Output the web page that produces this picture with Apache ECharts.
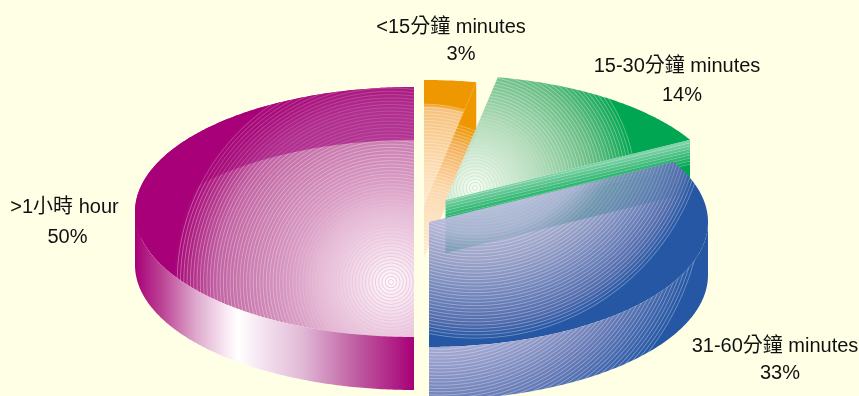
<!DOCTYPE html>
<html>
<head>
<meta charset="utf-8">
<style>html,body{margin:0;padding:0;background:#ffffe6}#chart{width:859px;height:396px}</style>
<script src="https://cdn.jsdelivr.net/npm/echarts@6/dist/echarts.min.js"></script>
</head>
<body>
<div id="chart"></div>
<script>
// Travel time shares, listed clockwise from the bottom of the pie.
const categories = ['>1小時 hour', '<15分鐘 minutes', '15-30分鐘 minutes', '31-60分鐘 minutes'];
const shares = [50, 3, 14, 33];

// Disc proportions shared by every slice.
const RX = 279, RY = 125, DEPTH = 53;
const WHITE = [255, 255, 255];

// Colour ramps: [position, rgb, alpha].
const RAMP_MAGENTA = [
  [0, [255, 250, 253], .97], [.35, [226, 176, 210], .92], [.65, [183, 76, 158], .72], [.8, [178, 58, 148], .8],
  [.93, [168, 16, 124], .92], [1, [168, 0, 120], 1]
];
const RAMP_ORANGE_TOP = [
  [0, [255, 250, 244], .95], [.5, [253, 222, 184], .95], [.95, [246, 190, 118], .95],
  [.975, [238, 151, 0], 1], [1, [238, 151, 0], 1]
];
const RAMP_ORANGE_WALL = [
  [0, [255, 240, 225], .95], [.5, [252, 214, 170], .95], [.85, [243, 176, 88], 1], [1, [238, 151, 0], 1]
];
const RAMP_GREEN = [
  [0, [248, 252, 244], .95], [.4, [172, 216, 182], .93], [.72, [90, 184, 124], .93], [.97, [0, 166, 81], 1], [1, [0, 166, 81], 1]
];
const RAMP_BLUE = [
  [0, [240, 240, 250], .95], [.55, [176, 178, 216], .96], [.66, [136, 146, 196], .84], [.84, [100, 122, 184], .95],
  [.93, [82, 108, 174], 1], [1, [37, 87, 165], 1]
];
const RAMP_BLUE_WALL = [
  [0, [240, 240, 250], 1], [.55, [176, 178, 216], 1], [.8, [104, 124, 184], 1], [.99, [37, 87, 165], 1], [1, [37, 87, 165], 1]
];

// Per-slice drawing settings, in the same order as the categories.
const sliceLooks = [
  { cx: 414, cy: 212, hue: [168, 0, 120],
    top: { x: 391, y: 282, r: 218, ramp: RAMP_MAGENTA, rings: 66 },
    label: [64.5, 207], share: [67.5, 237] },
  { cx: 424, cy: 205, hue: [238, 151, 0],
    top: { x: 424, y: 250, r: 150, ramp: RAMP_ORANGE_TOP, rings: 46 },
    cut: { x: 424, y: 255, r: 135, ramp: RAMP_ORANGE_WALL, rings: 42 },
    label: [451, 27], share: [461, 54] },
  { cx: 445.5, cy: 200, hue: [0, 166, 81],
    top: { x: 475, y: 188, r: 168, ramp: RAMP_GREEN, rings: 52 },
    cutLinear: true,
    label: [677, 66], share: [682, 95] },
  { cx: 429, cy: 222, hue: [37, 87, 165],
    top: { x: 475, y: 105, r: 234, ramp: RAMP_BLUE, rings: 72 },
    wall: { x: 440, y: 190, r: 268, ramp: RAMP_BLUE_WALL, rings: 82 },
    label: [775, 346], share: [780, 373] }
];

function mix(a, b, f) {
  return [0, 1, 2].map(i => a[i] + (b[i] - a[i]) * f);
}
function css(c, alpha) {
  return 'rgba(' + c.map(Math.round).join(',') + ',' + alpha.toFixed(3) + ')';
}
function clamp01(v) {
  return Math.max(0, Math.min(1, v));
}
function sampleRamp(ramp, t) {
  for (let i = 1; i < ramp.length; i++) {
    if (t <= ramp[i][0]) {
      const a = ramp[i - 1], b = ramp[i];
      const f = (t - a[0]) / (b[0] - a[0] || 1);
      return { rgb: mix(a[1], b[1], f), alpha: a[2] + (b[2] - a[2]) * f };
    }
  }
  const last = ramp[ramp.length - 1];
  return { rgb: last[1], alpha: last[2] };
}
// Concentric fine rings with soft edges, which keeps interference patterns down.
// Ring lines read darker than the surface near the pale centre and lighter further out.
function ringGradient(spec, hue) {
  const stops = [];
  for (let k = 0; k < spec.rings; k++) {
    const t0 = k / spec.rings, t1 = (k + .45) / spec.rings, t2 = (k + .72) / spec.rings;
    const a = sampleRamp(spec.ramp, t0), b = sampleRamp(spec.ramp, t1), g = sampleRamp(spec.ramp, t2);
    const solid = g.rgb.every((v, i) => Math.abs(v - hue[i]) < 1);
    const darken = .2 * clamp01(1 - t2 / .3), lighten = .24 * clamp01((t2 - .3) / .25);
    const lineRgb = solid ? g.rgb : mix(mix(g.rgb, hue, darken), WHITE, lighten);
    const lineAlpha = solid ? g.alpha : g.alpha * (1 - .1 * clamp01((t2 - .3) / .25));
    stops.push({ offset: t0, color: css(a.rgb, a.alpha) });
    stops.push({ offset: t1, color: css(b.rgb, b.alpha) });
    stops.push({ offset: t2, color: css(lineRgb, lineAlpha) });
  }
  // Beyond the last ring the surface is the plain slice colour.
  stops.push({ offset: 1, color: css(hue, 1) });
  return new echarts.graphic.RadialGradient(spec.x, spec.y, spec.r, stops, true);
}
// Striped gradient across the straight cut face of a slice.
function stripedCutFace(x, y, dx, dy, hue) {
  const stops = [], n = 8;
  for (let k = 0; k < n; k++) {
    const c0 = mix(hue, WHITE, .5 * (1 - k / n)), line = mix(c0, WHITE, .26);
    stops.push({ offset: k / n, color: css(c0, 1) });
    stops.push({ offset: (k + .5) / n, color: css(c0, 1) });
    stops.push({ offset: (k + .75) / n, color: css(line, 1) });
  }
  stops.push({ offset: 1, color: css(hue, 1) });
  return new echarts.graphic.LinearGradient(x, y, x + dx, y + dy, stops, true);
}

function rimPoint(look, deg, drop) {
  const a = deg * Math.PI / 180;
  return [look.cx + RX * Math.cos(a), look.cy - RY * Math.sin(a) + (drop || 0)];
}
function arc(look, from, to, drop) {
  const pts = [], steps = Math.max(4, Math.ceil(Math.abs(to - from) * 1.5));
  for (let i = 0; i <= steps; i++) pts.push(rimPoint(look, from + (to - from) * i / steps, drop));
  return pts;
}
// Rim band between two angles, top edge plus the same edge lowered by the disc depth.
function band(look, from, to) {
  return arc(look, from, to, 0).concat(arc(look, to, from, DEPTH));
}
function poly(points, fill) {
  return { type: 'polygon', shape: { points }, style: { fill } };
}

const total = shares.reduce((s, v) => s + v, 0);
const magentaWallStops = [
  [0, [168, 0, 120]], [.1, [188, 70, 150]], [.22, [222, 170, 205]], [.33, [250, 235, 245]],
  [.37, [255, 255, 255]], [.44, [247, 232, 243]], [.6, [225, 185, 214]], [.8, [190, 90, 160]], [1, [168, 0, 120]]
];

function renderSlice(params) {
  const i = params.dataIndex, look = sliceLooks[i];
  let before = 0;
  for (let k = 0; k < i; k++) before += shares[k];
  const start = 270 - before / total * 360;
  const end = start - shares[i] / total * 360;
  const apex = [look.cx, look.cy];
  const children = [];
  let faceOverTop = null;

  // Far wall, only seen through the translucent top of the large slice.
  if (i === 0) children.push(poly(band(look, 90, 180), css(look.hue, 1)));

  // Straight cut face on the trailing edge.
  if (look.cut || look.cutLinear) {
    const edge = rimPoint(look, end, 0);
    const face = [edge, apex, [apex[0], apex[1] + DEPTH], [edge[0], edge[1] + DEPTH]];
    if (look.cutLinear) {
      children.push(poly(face, stripedCutFace((edge[0] + apex[0]) / 2, (edge[1] + apex[1]) / 2, 5.5, 23, look.hue)));
    } else {
      faceOverTop = poly(face, ringGradient(look.cut, look.hue));
    }
  }

  // Top surface.
  const top = arc(look, start, end, 0);
  top.push(apex);
  children.push(poly(top, ringGradient(look.top, look.hue)));
  if (faceOverTop) children.push(faceOverTop);

  // Curved front wall.
  if (i === 0) {
    const stops = magentaWallStops.map(s => ({ offset: s[0], color: css(s[1], 1) }));
    children.push(poly(band(look, 180, 270),
      new echarts.graphic.LinearGradient(look.cx - RX, 0, look.cx, 0, stops, true)));
  } else if (look.wall) {
    children.push(poly(band(look, -90, 0), ringGradient(look.wall, look.hue)));
  }

  // Category name and share.
  const font = '20px "Liberation Sans", "Noto Sans CJK TC", sans-serif';
  children.push({ type: 'text', z2: 10, style: { text: categories[i], x: look.label[0], y: look.label[1],
    align: 'center', verticalAlign: 'middle', font, fill: '#111' } });
  children.push({ type: 'text', z2: 10, style: { text: shares[i] + '%', x: look.share[0], y: look.share[1],
    align: 'center', verticalAlign: 'middle', font, fill: '#111' } });
  return { type: 'group', children };
}

const chart = echarts.init(document.getElementById('chart'), null, { renderer: 'canvas' });
chart.setOption({
  backgroundColor: '#ffffe6',
  animation: false,
  series: [{
    type: 'custom',
    coordinateSystem: 'none',
    renderItem: renderSlice,
    data: shares.map((v, i) => ({ name: categories[i], value: v }))
  }]
});
</script>
</body>
</html>
